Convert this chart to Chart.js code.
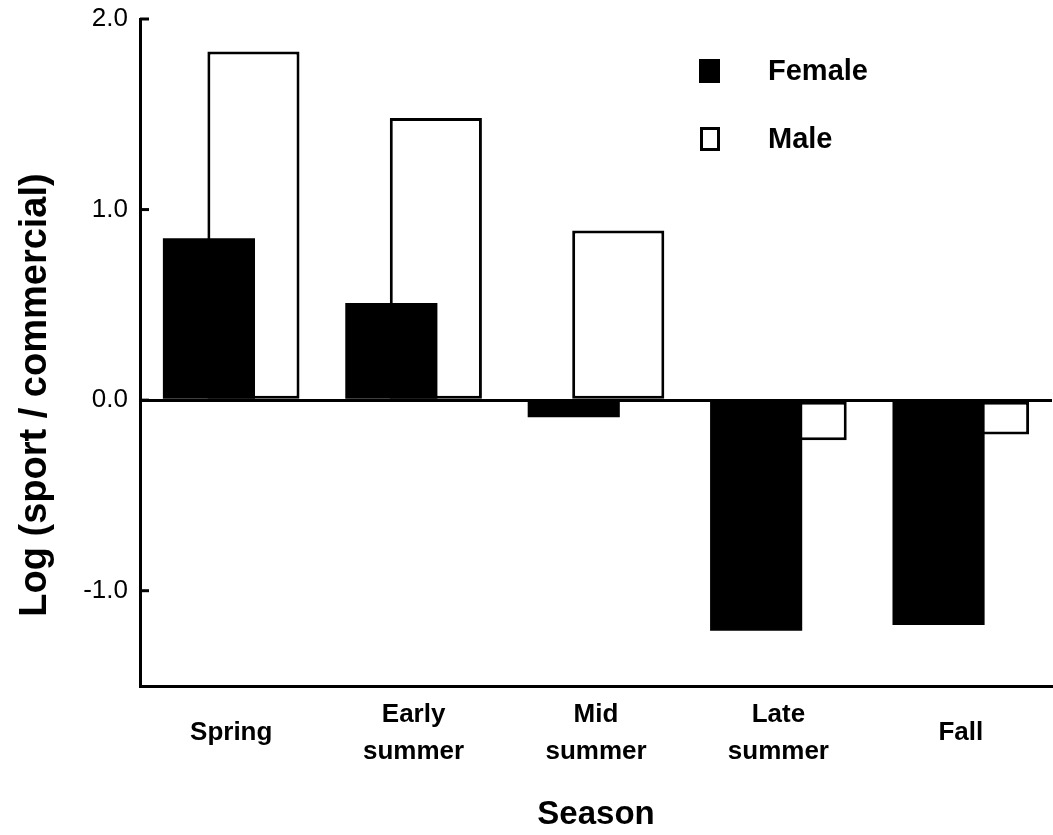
<!DOCTYPE html>
<html>
<head>
<meta charset="utf-8">
<script src="https://cdn.jsdelivr.net/npm/chart.js@4"></script>
<style>
  html, body { margin: 0; padding: 0; background: #fff; }
  #wrap { width: 1053px; height: 835px; position: relative; }
</style>
</head>
<body>
<div id="wrap"><canvas id="grafico"></canvas></div>
<script>
// datos
const seasons = ['Spring', ['Early', 'summer'], ['Mid', 'summer'], ['Late', 'summer'], 'Fall'];
const female = [0.85, 0.51, -0.09, -1.21, -1.18];
const male = [1.83, 1.48, 0.89, -0.21, -0.18];
const yTicks = [-1, 0, 1, 2];
const yTitle = 'Log (sport / commercial)';
const xTitle = 'Season';

const FONT = '"Liberation Sans", Arial, sans-serif';
Chart.defaults.color = '#000';
Chart.defaults.font.family = FONT;

// marcas cortas hacia adentro, titulo del eje y, leyenda
const extras = {
  id: 'extras',
  afterDraw(chart) {
    const ctx = chart.ctx;
    const y = chart.scales.y;
    const area = chart.chartArea;
    ctx.save();
    ctx.strokeStyle = '#000';
    ctx.lineWidth = 3;
    yTicks.forEach(v => {
      const py = y.getPixelForValue(v);
      ctx.beginPath();
      ctx.moveTo(area.left, py);
      ctx.lineTo(area.left + 9, py);
      ctx.stroke();
    });

    ctx.save();
    ctx.fillStyle = '#000';
    ctx.font = 'bold 38px ' + FONT;
    ctx.translate(46, 395);
    ctx.rotate(-Math.PI / 2);
    ctx.textAlign = 'center';
    ctx.textBaseline = 'alphabetic';
    ctx.fillText(yTitle, 0, 0);
    ctx.restore();

    ctx.font = 'bold 29px ' + FONT;
    ctx.textAlign = 'left';
    ctx.textBaseline = 'middle';
    chart.data.datasets.forEach((ds, i) => {
      const top = 59 + i * 68;
      if (ds.borderWidth) {
        ctx.fillStyle = '#fff';
        ctx.fillRect(700, top, 20, 24);
        ctx.strokeRect(701.5, top + 1.5, 17, 21);
      } else {
        ctx.fillStyle = ds.backgroundColor;
        ctx.fillRect(699, top, 21, 24);
      }
      ctx.fillStyle = '#000';
      ctx.fillText(ds.label, 768, top + 13);
    });
    ctx.restore();
  }
};

const ctx = document.getElementById('grafico').getContext('2d');
const grafico = new Chart(ctx, {
  type: 'bar',
  data: {
    labels: seasons,
    datasets: [
      { label: 'Female', data: female, backgroundColor: '#000', borderWidth: 0 },
      { label: 'Male', data: male, backgroundColor: '#fff', borderColor: '#000', borderWidth: 3, borderSkipped: false }
    ]
  },
  options: {
    responsive: true,
    maintainAspectRatio: false,
    animation: false,
    categoryPercentage: 0.488,
    barPercentage: 2.07,
    layout: { padding: { top: 19, right: 1, left: 0, bottom: 0 } },
    plugins: {
      legend: { display: false },
      tooltip: { enabled: false }
    },
    scales: {
      x: {
        grid: { display: false, drawTicks: false },
        border: { display: true, color: '#000', width: 3 },
        ticks: {
          font: { size: 26, weight: 'bold', lineHeight: 1.4 },
          padding: 29,
          crossAlign: 'center',
          maxRotation: 0,
          autoSkip: false
        },
        title: {
          display: true,
          text: xTitle,
          font: { size: 33, weight: 'bold' },
          padding: { top: 0, bottom: 0 }
        },
        afterFit: s => { s.height = 149; }
      },
      y: {
        min: -1.5,
        max: 2.0,
        afterBuildTicks: s => { s.ticks = yTicks.map(v => ({ value: v })); },
        grid: {
          drawTicks: false,
          color: c => (c.tick && c.tick.value === 0 ? '#000' : 'rgba(0,0,0,0)'),
          lineWidth: 3
        },
        border: { display: true, color: '#000', width: 3 },
        ticks: {
          font: { size: 26, lineHeight: 0.4 },
          padding: 12,
          callback: v => Number(v).toFixed(1)
        },
        afterFit: s => { s.width = 140; }
      }
    }
  },
  plugins: [extras]
});
</script>
</body>
</html>
